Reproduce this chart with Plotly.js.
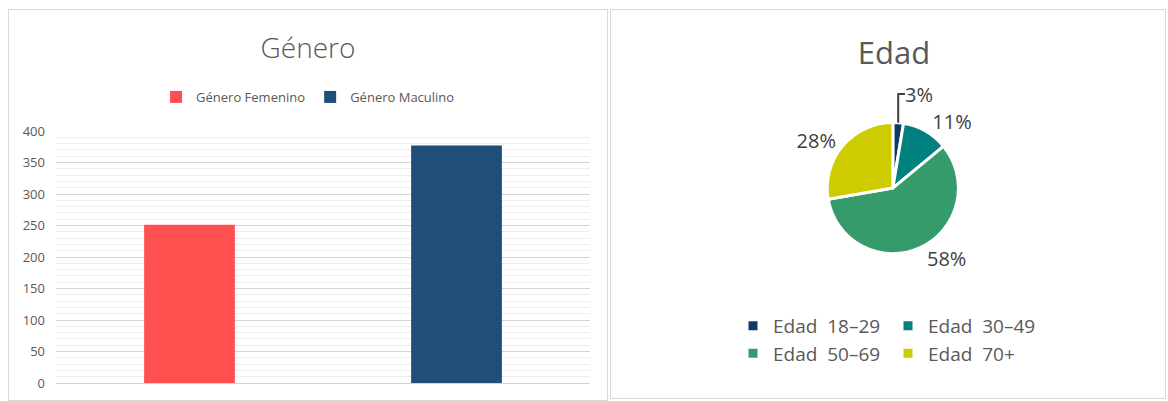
<!DOCTYPE html>
<html>
<head>
<meta charset="utf-8">
<script src="https://cdn.plot.ly/plotly-3.0.1.min.js"></script>
<style>
  html, body { margin: 0; padding: 0; background: #ffffff; width: 1168px; height: 401px; overflow: hidden; }
  #bar { position: absolute; left: 8px; top: 9px; width: 600px; height: 392px; border: 1px solid #d9d9d9; box-sizing: border-box; }
  #pie { position: absolute; left: 610px; top: 9px; width: 556px; height: 390px; border: 1px solid #d9d9d9; box-sizing: border-box; }
</style>
</head>
<body>
<div id="bar"></div>
<div id="pie"></div>
<script>
// ---- Data: bar chart (Género) ----
const genderSeries = ['Género Femenino', 'Género Maculino'];
const genderValues = [251, 377];
const genderColors = ['#FF5050', '#1F4E79'];
const barTitle = 'Género';
const yTicks = [0, 50, 100, 150, 200, 250, 300, 350, 400];

// ---- Data: pie chart (Edad) ----
const ageLabels = ['Edad  18–29', 'Edad  30–49', 'Edad  50–69', 'Edad  70+'];
const ageValues = [2.6, 11.4, 58.3, 27.7];
const ageColors = ['#0E3A66', '#00817F', '#369B6A', '#CCCC00'];
const pieTitle = 'Edad';

const FONT = '"Open Sans", "Segoe UI", sans-serif';
const TXT = '#595959';

// Bar chart
const barTraces = genderSeries.map((name, i) => ({
  type: 'bar',
  name: name,
  x: [name],
  y: [genderValues[i]],
  width: 0.34,
  marker: { color: genderColors[i] },
  hoverinfo: 'y'
}));

const barLayout = {
  width: 598, height: 390,
  margin: { l: 47, r: 17, t: 121, b: 17 },
  paper_bgcolor: '#ffffff',
  plot_bgcolor: '#ffffff',
  font: { family: FONT, color: TXT, size: 13 },
  title: {
    text: barTitle,
    font: { family: FONT, size: 28, color: TXT, weight: 300 },
    x: 0.5, xanchor: 'center',
    y: 1 - 38 / 390, yref: 'container', yanchor: 'middle'
  },
  showlegend: true,
  legend: {
    orientation: 'h',
    x: 0.472, xanchor: 'center',
    y: 1.135, yanchor: 'middle',
    font: { family: FONT, size: 13, color: TXT },
    itemwidth: 30,
    traceorder: 'normal'
  },
  xaxis: {
    type: 'category',
    categoryarray: genderSeries,
    showticklabels: false,
    showgrid: false,
    zeroline: false,
    showline: false,
    ticks: ''
  },
  yaxis: {
    range: [0, 400],
    tickvals: yTicks,
    ticktext: yTicks.map(String),
    showgrid: true,
    gridcolor: '#d4d4d4',
    gridwidth: 1,
    zeroline: true,
    zerolinecolor: '#d4d4d4',
    zerolinewidth: 1,
    showline: false,
    ticks: '',
    ticklabelstandoff: 10,
    tickfont: { family: FONT, size: 13, color: TXT },
    minor: { dtick: 10, showgrid: true, gridcolor: '#eeeeee', gridwidth: 1, ticks: '' }
  },
  bargap: 0.66
};

Plotly.newPlot('bar', barTraces, barLayout, { displayModeBar: false, staticPlot: true });

// Pie chart
const pieTrace = {
  type: 'pie',
  labels: ageLabels,
  values: ageValues,
  sort: false,
  direction: 'clockwise',
  rotation: 0,
  marker: { colors: ageColors, line: { color: '#ffffff', width: 3 } },
  textinfo: 'percent',
  texttemplate: '%{percent:.0%}',
  textposition: 'outside',
  outsidetextfont: { family: FONT, size: 20, color: '#404040' },
  domain: { x: [0.024, 1], y: [0.372, 0.710] },
  legend: 'legend',
  showlegend: true
};

const pieLayout = {
  width: 554, height: 388,
  margin: { l: 75, r: 75, t: 0, b: 0 },
  paper_bgcolor: '#ffffff',
  font: { family: FONT, color: TXT, size: 19 },
  title: {
    text: pieTitle,
    font: { family: FONT, size: 31, color: TXT },
    x: 283 / 554, xanchor: 'center',
    y: 1 - 43 / 388, yref: 'container', yanchor: 'middle'
  },
  legend: {
    orientation: 'h',
    x: 0.5, xanchor: 'center',
    y: 0.235, yanchor: 'top',
    font: { family: FONT, size: 19, color: TXT },
    itemwidth: 30,
    entrywidth: 110,
    entrywidthmode: 'pixels',
    traceorder: 'normal'
  }
};

Plotly.newPlot('pie', [pieTrace], pieLayout, { displayModeBar: false, staticPlot: true });
</script>
</body>
</html>
